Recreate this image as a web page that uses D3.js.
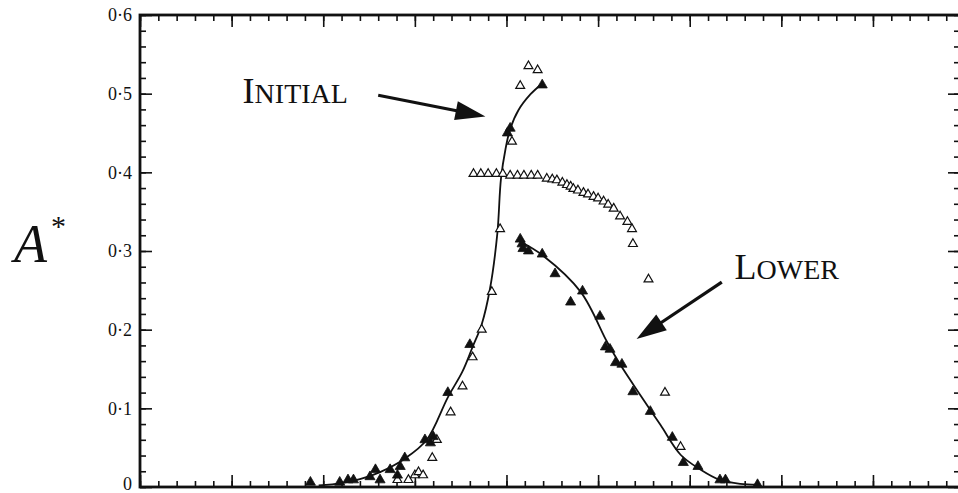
<!DOCTYPE html>
<html>
<head>
<meta charset="utf-8">
<script src="https://cdn.jsdelivr.net/npm/d3@7"></script>
<style>
  html, body { margin: 0; padding: 0; background: #fff; }
  svg { display: block; }
  text { font-family: "Liberation Serif", "DejaVu Serif", serif; fill: #111; }
</style>
</head>
<body>
<svg id="chart" width="958" height="493"></svg>
<script>
// ---------- data ----------
// y tick labels
const yTickValues = [0, 0.1, 0.2, 0.3, 0.4, 0.5, 0.6];
const yTickLabels = ["0", "0·1", "0·2", "0·3", "0·4", "0·5", "0·6"];
const yMinorTicks = d3.range(0, 0.6001, 0.02);
const xMajorTicks = d3.range(0, 81, 10);
const xMinorTicks = d3.range(0, 89, 2);

// "Initial" branch – filled triangles
const initialFilledX = [18.6, 21.8, 22.7, 23.3, 25.1, 25.7, 26.2, 27.3, 28.1, 28.4, 28.9, 31.1, 31.7, 32.0, 33.6, 36.0, 40.1, 40.4, 43.9];
const initialFilledY = [0.006, 0.006, 0.009, 0.009, 0.013, 0.022, 0.009, 0.022, 0.015, 0.026, 0.037, 0.060, 0.056, 0.064, 0.120, 0.181, 0.450, 0.456, 0.511];

// "Initial" branch – open triangles
const initialOpenX = [28.1, 29.3, 30.0, 30.4, 30.9, 31.9, 32.4, 33.9, 35.2, 36.3, 37.3, 38.4, 39.3, 40.6, 41.5, 42.4, 43.4];
const initialOpenY = [0.009, 0.009, 0.015, 0.019, 0.015, 0.037, 0.060, 0.095, 0.128, 0.165, 0.200, 0.248, 0.328, 0.439, 0.510, 0.535, 0.530];

// upper plateau – open triangles
const plateauX = [36.4, 37.2, 38.0, 38.9, 39.6, 40.4, 41.2, 41.9, 42.7, 43.4, 44.4, 45.0, 45.5, 46.1, 46.6, 47.0, 47.3, 47.8, 48.4, 48.9, 49.5, 50.0, 50.6, 51.1, 51.7, 52.4, 53.2, 53.7, 53.8, 55.5, 57.3, 59.0];
const plateauY = [0.398, 0.398, 0.398, 0.398, 0.398, 0.396, 0.396, 0.396, 0.396, 0.396, 0.392, 0.391, 0.390, 0.387, 0.384, 0.382, 0.379, 0.377, 0.374, 0.372, 0.369, 0.367, 0.363, 0.359, 0.354, 0.344, 0.337, 0.328, 0.309, 0.264, 0.120, 0.051];

// "Lower" branch – filled triangles
const lowerFilledX = [41.5, 41.7, 41.8, 42.4, 43.9, 45.3, 47.0, 48.3, 50.2, 50.8, 51.3, 51.9, 52.6, 53.8, 55.7, 58.1, 59.3, 60.9, 63.3, 63.9, 67.4];
const lowerFilledY = [0.315, 0.309, 0.303, 0.300, 0.296, 0.271, 0.235, 0.249, 0.217, 0.178, 0.175, 0.158, 0.156, 0.121, 0.096, 0.063, 0.031, 0.026, 0.009, 0.009, 0.003];

// fitted curves
const initialCurveX = [19.5, 22.0, 24.0, 26.2, 28.9, 31.3, 33.6, 35.2, 36.3, 37.3, 38.2, 39.0, 39.4, 39.9, 40.4, 41.3, 42.6, 43.9];
const initialCurveY = [0.002, 0.005, 0.010, 0.019, 0.036, 0.060, 0.114, 0.147, 0.178, 0.207, 0.252, 0.322, 0.392, 0.430, 0.455, 0.479, 0.499, 0.513];
const lowerCurveX = [41.5, 44.0, 48.1, 51.0, 52.4, 54.6, 56.8, 59.0, 61.2, 63.3, 65.5, 67.4];
const lowerCurveY = [0.312, 0.294, 0.248, 0.184, 0.156, 0.117, 0.079, 0.041, 0.022, 0.009, 0.004, 0.003];

// annotations
const annotations = [
  { big: "I", small: "NITIAL", x: 11.2, y: 0.488, fromX: 26.0, fromY: 0.498, toX: 37.7, toY: 0.471 },
  { big: "L", small: "OWER", x: 64.9, y: 0.264, fromX: 63.5, fromY: 0.2605, toX: 54.2, toY: 0.188 }
];

// ---------- chart ----------
const svg = d3.select("#chart");
const mLeft = 140, mRight = 960, mTop = 15, mBottom = 487;
const x = d3.scaleLinear().domain([0, 89.5]).range([mLeft, mRight]);
const y = d3.scaleLinear().domain([0, 0.6]).range([mBottom, mTop]);
const ink = "#111";

const zip = (xs, ys) => xs.map((v, i) => ({ x: v, y: ys[i] }));

// axes (ticks pointing inward)
function styleAxis(g) {
  g.selectAll(".domain").remove();
  g.selectAll(".tick line").attr("stroke", ink).attr("stroke-width", 1.6);
}
// left
svg.append("g").attr("transform", `translate(${mLeft},0)`)
  .call(d3.axisLeft(y).tickValues(yMinorTicks).tickSize(-6).tickFormat(""))
  .call(styleAxis);
svg.append("g").attr("transform", `translate(${mLeft},0)`)
  .call(d3.axisLeft(y).tickValues(yTickValues).tickSize(-12).tickPadding(8)
        .tickFormat((d, i) => yTickLabels[i]))
  .call(styleAxis)
  .call(g => g.selectAll("text").attr("font-size", 18).attr("fill", "#333")
        .style("font-family", "'Liberation Serif', serif")
        .filter(d => d === 0).attr("dy", "0.12em"));
// right
svg.append("g").attr("transform", `translate(${mRight},0)`)
  .call(d3.axisRight(y).tickValues(yMinorTicks).tickSize(-6).tickFormat(""))
  .call(styleAxis);
svg.append("g").attr("transform", `translate(${mRight},0)`)
  .call(d3.axisRight(y).tickValues(yTickValues).tickSize(-12).tickFormat(""))
  .call(styleAxis);
// bottom
svg.append("g").attr("transform", `translate(0,${mBottom})`)
  .call(d3.axisBottom(x).tickValues(xMinorTicks).tickSize(-6).tickFormat(""))
  .call(styleAxis);
svg.append("g").attr("transform", `translate(0,${mBottom})`)
  .call(d3.axisBottom(x).tickValues(xMajorTicks).tickSize(-12).tickFormat(""))
  .call(styleAxis);
// top
svg.append("g").attr("transform", `translate(0,${mTop})`)
  .call(d3.axisTop(x).tickValues(xMinorTicks).tickSize(-6).tickFormat(""))
  .call(styleAxis);
svg.append("g").attr("transform", `translate(0,${mTop})`)
  .call(d3.axisTop(x).tickValues(xMajorTicks).tickSize(-12).tickFormat(""))
  .call(styleAxis);

// frame
svg.append("rect").attr("x", mLeft).attr("y", mTop)
  .attr("width", mRight - mLeft).attr("height", mBottom - mTop)
  .attr("fill", "none").attr("stroke", ink).attr("stroke-width", 2.8);

// curves
const line = d3.line().x(d => x(d.x)).y(d => y(d.y)).curve(d3.curveCatmullRom.alpha(0.5));
svg.append("path").datum(zip(initialCurveX, initialCurveY))
  .attr("d", line).attr("fill", "none").attr("stroke", ink).attr("stroke-width", 1.8);
svg.append("path").datum(zip(lowerCurveX, lowerCurveY))
  .attr("d", line).attr("fill", "none").attr("stroke", ink).attr("stroke-width", 1.8);

// markers
const tri = d3.symbol().type(d3.symbolTriangle);
function drawPts(data, filled, size) {
  svg.append("g").selectAll("path").data(data).join("path")
    .attr("transform", d => `translate(${x(d.x)},${y(d.y)})`)
    .attr("d", tri.size(size)())
    .attr("fill", filled ? ink : "#fff")
    .attr("stroke", ink)
    .attr("stroke-width", filled ? 0.8 : 1.2);
}
drawPts(zip(plateauX, plateauY), false, 34);
drawPts(zip(initialOpenX, initialOpenY), false, 34);
drawPts(zip(initialFilledX, initialFilledY), true, 44);
drawPts(zip(lowerFilledX, lowerFilledY), true, 44);

// annotations: text + arrows
annotations.forEach(a => {
  const t = svg.append("text").attr("x", x(a.x)).attr("y", y(a.y)).attr("fill", "#222");
  t.append("tspan").attr("font-size", 36).text(a.big);
  t.append("tspan").attr("font-size", 28).text(a.small);

  const x0 = x(a.fromX), y0 = y(a.fromY), x1 = x(a.toX), y1 = y(a.toY);
  const dx = x1 - x0, dy = y1 - y0, L = Math.hypot(dx, dy);
  const ux = dx / L, uy = dy / L, hl = 30, hw = 9.5;
  const bx = x1 - ux * hl, by = y1 - uy * hl;
  svg.append("line").attr("x1", x0).attr("y1", y0).attr("x2", bx + ux * 2).attr("y2", by + uy * 2)
    .attr("stroke", ink).attr("stroke-width", 3.2);
  svg.append("path")
    .attr("d", `M${x1},${y1}L${bx - uy * hw},${by + ux * hw}L${bx + uy * hw},${by - ux * hw}Z`)
    .attr("fill", ink);
});

// y-axis title A*
const yt = svg.append("text").attr("x", 14).attr("y", 262).attr("fill", "#111");
yt.append("tspan").attr("font-size", 54).attr("font-style", "italic").text("A");
yt.append("tspan").attr("font-size", 30).attr("dy", -26).attr("dx", 4).text("*");
</script>
</body>
</html>
